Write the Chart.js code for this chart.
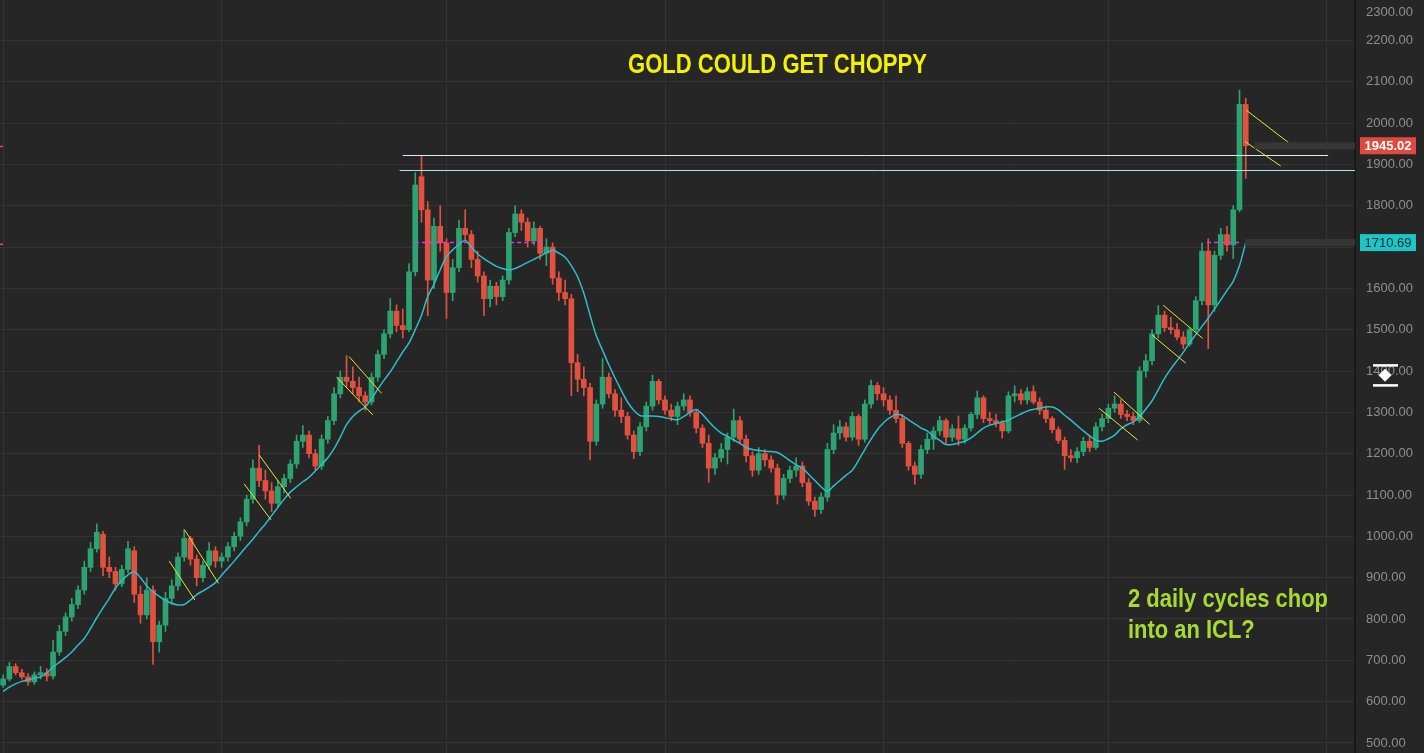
<!DOCTYPE html>
<html>
<head>
<meta charset="utf-8">
<title>Gold could get choppy</title>
<script src="https://cdn.jsdelivr.net/npm/chart.js@4.4.0/dist/chart.umd.min.js"></script>
<style>
  html, body { margin: 0; padding: 0; background: #262626; overflow: hidden; }
  #wrap { width: 1424px; height: 753px; }
</style>
</head>
<body>
<div id="wrap"><canvas id="goldChart"></canvas></div>
<script>
// candle data (oldest first)
const opens = [640,655,685,670,660,648,665,670,662,720,770,805,835,870,925,970,1005,925,915,885,
  920,965,860,810,870,745,785,850,880,950,995,945,900,930,965,940,950,975,1000,1035,
  1090,1165,1135,1110,1080,1120,1140,1175,1230,1245,1200,1170,1235,1280,1345,1385,1375,1360,1340,1325,
  1385,1440,1490,1545,1510,1500,1640,1870,1790,1620,1750,1710,1590,1650,1745,1730,1670,1630,1575,1605,
  1580,1620,1735,1780,1760,1715,1745,1685,1700,1625,1590,1575,1420,1380,1360,1230,1320,1385,1345,1305,
  1290,1245,1205,1265,1315,1375,1330,1305,1290,1315,1330,1300,1262,1225,1165,1190,1210,1240,1280,1235,
  1195,1160,1200,1185,1165,1100,1140,1160,1170,1130,1085,1065,1095,1210,1250,1265,1240,1290,1235,1320,
  1365,1345,1330,1305,1285,1225,1170,1150,1210,1235,1255,1280,1240,1260,1235,1262,1295,1335,1285,1280,
  1275,1255,1340,1345,1330,1350,1325,1305,1285,1258,1232,1195,1190,1205,1230,1215,1265,1285,1310,1320,
  1295,1290,1280,1400,1425,1490,1535,1505,1500,1482,1465,1500,1570,1690,1560,1680,1730,1705,1790,2045];
const highs = [665,695,692,678,668,672,685,680,748,785,815,850,880,940,985,1030,1012,950,925,930,
  988,975,880,900,880,795,865,895,960,1017,1000,955,940,985,975,960,985,1010,1045,1100,
  1185,1220,1160,1130,1135,1150,1185,1245,1268,1255,1210,1245,1290,1360,1400,1437,1410,1385,1350,1395,
  1450,1500,1575,1560,1550,1660,1880,1922,1810,1770,1800,1720,1670,1765,1790,1740,1690,1640,1620,1615,
  1630,1745,1800,1790,1770,1760,1750,1720,1710,1640,1620,1585,1440,1410,1370,1330,1430,1395,1355,1335,
  1300,1255,1275,1325,1390,1380,1340,1320,1325,1345,1340,1305,1270,1245,1200,1225,1250,1308,1290,1245,
  1205,1215,1210,1195,1175,1150,1170,1190,1180,1140,1095,1105,1225,1270,1280,1275,1300,1295,1330,1378,
  1372,1360,1340,1340,1295,1230,1180,1220,1250,1265,1290,1285,1270,1291,1270,1300,1352,1340,1300,1295,
  1280,1350,1364,1355,1360,1364,1335,1315,1290,1265,1240,1210,1215,1240,1245,1275,1295,1320,1340,1330,
  1305,1300,1410,1440,1500,1558,1545,1530,1515,1495,1505,1580,1710,1720,1690,1745,1750,1800,2080,2060];
const lows = [635,650,665,655,640,642,655,650,655,712,760,795,825,860,915,962,905,900,870,878,
  912,840,790,800,690,720,770,835,870,940,930,880,890,920,925,925,940,965,990,1025,
  1080,1120,1090,1060,1070,1105,1130,1165,1215,1190,1160,1162,1225,1270,1335,1360,1345,1325,1305,1318,
  1375,1430,1480,1495,1480,1495,1630,1760,1534,1600,1690,1527,1570,1640,1715,1650,1615,1534,1555,1560,
  1570,1610,1725,1740,1700,1705,1670,1655,1610,1570,1560,1340,1350,1340,1185,1220,1310,1335,1290,1275,
  1235,1188,1195,1255,1305,1320,1295,1280,1270,1305,1290,1250,1215,1131,1150,1180,1175,1230,1225,1180,
  1145,1150,1170,1155,1078,1090,1130,1145,1120,1075,1048,1055,1085,1200,1235,1230,1232,1220,1228,1310,
  1330,1315,1295,1275,1215,1160,1126,1140,1200,1210,1245,1225,1230,1220,1225,1255,1285,1275,1270,1265,
  1238,1250,1325,1320,1320,1320,1295,1275,1250,1225,1162,1180,1178,1195,1205,1210,1255,1275,1300,1285,
  1280,1270,1275,1385,1415,1480,1495,1490,1475,1454,1460,1495,1560,1454,1545,1670,1690,1672,1785,1866];
const closes = [655,685,670,660,648,665,670,662,720,770,805,835,870,925,970,1010,925,915,885,920,
  970,860,810,870,745,785,850,880,950,995,945,900,930,965,940,950,975,1000,1035,1090,
  1165,1135,1110,1080,1120,1140,1175,1230,1245,1200,1170,1235,1280,1345,1385,1375,1360,1340,1325,1385,
  1440,1490,1545,1510,1500,1640,1850,1790,1620,1750,1710,1590,1650,1745,1730,1670,1630,1575,1605,1580,
  1620,1735,1780,1760,1715,1745,1685,1700,1625,1590,1575,1420,1380,1360,1230,1320,1385,1345,1305,1290,
  1245,1205,1265,1315,1375,1330,1305,1290,1315,1330,1300,1262,1225,1165,1190,1210,1240,1280,1235,1195,
  1160,1200,1185,1165,1100,1140,1160,1170,1130,1085,1065,1095,1210,1250,1265,1240,1290,1235,1320,1365,
  1345,1330,1305,1285,1225,1170,1150,1210,1235,1255,1280,1240,1260,1235,1262,1295,1335,1285,1280,1275,
  1255,1340,1345,1330,1350,1325,1305,1285,1258,1232,1195,1190,1205,1230,1215,1265,1285,1310,1320,1295,
  1290,1280,1400,1425,1490,1535,1505,1500,1482,1465,1500,1570,1690,1560,1680,1730,1705,1790,2045,1945.02];
// the cyan moving average as drawn
const maValues = [625,635,643,649,653,657,660,670,684,695,707,720,737,753,777,803,827,850,875,893,
  907,915,900,880,866,855,845,838,834,835,846,859,868,877,888,906,923,940,958,976,
  993,1012,1030,1050,1070,1090,1107,1120,1132,1143,1158,1174,1190,1212,1240,1270,1290,1303,1313,1333,
  1356,1378,1398,1422,1446,1468,1500,1535,1580,1610,1645,1677,1693,1706,1716,1700,1683,1672,1662,1653,
  1648,1644,1648,1655,1663,1670,1678,1686,1692,1685,1675,1655,1628,1588,1535,1485,1450,1415,1383,1353,
  1325,1305,1292,1291,1291,1290,1287,1284,1282,1290,1300,1307,1295,1278,1262,1250,1242,1233,1225,1215,
  1210,1208,1206,1205,1203,1194,1183,1173,1165,1150,1135,1120,1109,1122,1135,1148,1160,1184,1210,1235,
  1258,1275,1287,1295,1292,1282,1272,1262,1255,1242,1232,1222,1222,1226,1230,1238,1250,1262,1269,1273,
  1277,1281,1289,1296,1303,1307,1310,1313,1313,1306,1293,1281,1268,1255,1243,1233,1230,1236,1245,1260,
  1270,1277,1290,1308,1328,1355,1382,1405,1425,1445,1468,1488,1508,1528,1550,1572,1595,1617,1655,1710.69];
const yTickStep = 100;
const yMin = 475.8;
const yMax = 2297.6;
const lastPrice = 1945.02;
const lastMa = 1710.69;

// empty slots on the right so the last candle sits where it does in the picture
const slotCount = 217;
const slots = Array.from({ length: slotCount }, (_, i) => String(i));

// drawn-on markup, in (slot, price) terms
const levelLines = [
  { from: 64.0, to: 212.2, price: 1922.6, color: '#d8eef5' },
  { from: 63.5, to: null, price: 1886, color: '#a9e2f2' }
];
const channelLines = [
  [26.6, 940, 30.7, 846], [29.1, 1015, 34.5, 886],
  [38.6, 1127, 42.9, 1040], [41.0, 1197, 46.05, 1092],
  [53.4, 1385, 59.2, 1294], [55.4, 1435, 60.6, 1346],
  [175.5, 1310, 181.7, 1233], [177.9, 1349, 183.6, 1271],
  [184.0, 1487, 189.4, 1419], [185.8, 1559, 192.1, 1479],
  [199.1, 2031, 205.9, 1952], [198.9, 1955, 204.6, 1896]
];
const pivotDashes = [[65.95, 74.3], [81.2, 86.5], [192.8, 198.1]];
const verticalGrid = [0, 35, 71, 106, 141, 177, 212];

const upColor = '#2ea372';
const downColor = '#e2513f';
const candleColors = closes.map((c, i) => (c >= opens[i] ? upColor : downColor));

const axisFont = { family: '"Liberation Sans", Arial, sans-serif', size: 13 };

// draws text squeezed to the width it has in the picture
function fitText(ctx, text, x, y, width) {
  const w = ctx.measureText(text).width;
  ctx.save();
  ctx.translate(x, y);
  ctx.scale(width / w, 1);
  ctx.fillText(text, 0, 0);
  ctx.restore();
  return width / w;
}

const markup = {
  id: 'markup',
  beforeDraw(chart) {
    const ctx = chart.ctx;
    ctx.save();
    ctx.fillStyle = '#262626';
    ctx.fillRect(0, 0, chart.width, chart.height);
    ctx.restore();
  },
  afterDatasetsDraw(chart) {
    const { ctx, chartArea } = chart;
    const xs = chart.scales.x, ys = chart.scales.y;
    ctx.save();

    // level lines
    ctx.lineWidth = 1;
    levelLines.forEach(l => {
      const y = Math.round(ys.getPixelForValue(l.price)) + 0.5;
      ctx.strokeStyle = l.color;
      ctx.beginPath();
      ctx.moveTo(xs.getPixelForValue(l.from), y);
      ctx.lineTo(l.to === null ? chartArea.right : xs.getPixelForValue(l.to), y);
      ctx.stroke();
    });

    // channel marks
    ctx.strokeStyle = '#e6e82e';
    ctx.lineWidth = 1;
    channelLines.forEach(c => {
      ctx.beginPath();
      ctx.moveTo(xs.getPixelForValue(c[0]), ys.getPixelForValue(c[1]));
      ctx.lineTo(xs.getPixelForValue(c[2]), ys.getPixelForValue(c[3]));
      ctx.stroke();
    });

    // magenta pivots at the average's last value
    ctx.strokeStyle = '#d43fd4';
    ctx.lineWidth = 1.5;
    ctx.setLineDash([4, 3]);
    const yMa = ys.getPixelForValue(lastMa);
    pivotDashes.forEach(d => {
      ctx.beginPath();
      ctx.moveTo(xs.getPixelForValue(d[0]), yMa);
      ctx.lineTo(xs.getPixelForValue(d[1]), yMa);
      ctx.stroke();
    });
    ctx.setLineDash([]);

    // price line stubs on the right
    const yLast = ys.getPixelForValue(lastPrice);
    ctx.fillStyle = '#363636';
    ctx.fillRect(xs.getPixelForValue(200.4), yLast - 3.5, chartArea.right - xs.getPixelForValue(200.4), 7);
    ctx.fillRect(xs.getPixelForValue(198.9), yMa - 3.5, chartArea.right - xs.getPixelForValue(198.9), 7);
    ctx.fillStyle = '#e2513f';
    ctx.fillRect(0, yLast, 3, 1.5);
    ctx.fillStyle = '#d43fd4';
    ctx.fillRect(0, yMa + 1, 3, 1.5);
    ctx.restore();
  },
  afterDraw(chart) {
    const { ctx, chartArea } = chart;
    const ys = chart.scales.y;
    ctx.save();

    // headline
    ctx.fillStyle = '#f3f000';
    ctx.font = 'bold 27px "Liberation Sans Narrow", "Liberation Sans", Arial, sans-serif';
    ctx.textBaseline = 'alphabetic';
    fitText(ctx, 'GOLD COULD GET CHOPPY', 628, 73, 299);

    // note
    ctx.fillStyle = '#a6d932';
    ctx.font = 'bold 25px "Liberation Sans Narrow", "Liberation Sans", Arial, sans-serif';
    const k = fitText(ctx, '2 daily cycles chop', 1128, 607, 200);
    const w2 = ctx.measureText('into an ICL?').width * k;
    fitText(ctx, 'into an ICL?', 1128, 638, w2);

    // top axis label that sits above the scale
    ctx.fillStyle = '#8e8e8e';
    ctx.font = '13px "Liberation Sans", Arial, sans-serif';
    ctx.textBaseline = 'middle';
    ctx.textAlign = 'left';
    ctx.fillText('2300.00', chartArea.right + 11, 12);

    // last price tags
    const tags = [
      { price: lastPrice, bg: '#de4a3e', fg: '#ffffff', bold: true },
      { price: lastMa, bg: '#1cc6c8', fg: '#17292b', bold: false }
    ];
    tags.forEach(t => {
      const y = ys.getPixelForValue(t.price);
      ctx.fillStyle = t.bg;
      ctx.fillRect(chartArea.right + 5, y - 8.5, 56, 17);
      ctx.fillStyle = t.fg;
      ctx.font = (t.bold ? 'bold ' : '') + '13px "Liberation Sans", Arial, sans-serif';
      ctx.textAlign = 'center';
      ctx.fillText(t.price.toFixed(2), chartArea.right + 33, y + 0.5);
    });

    // scale handle icon
    const ix = chartArea.right + 30, iy = ys.getPixelForValue(1390);
    ctx.fillStyle = '#ffffff';
    ctx.fillRect(ix - 12, iy - 11, 25, 2.5);
    ctx.fillRect(ix - 12, iy + 9, 25, 2.5);
    ctx.beginPath();
    ctx.moveTo(ix, iy - 6.5);
    ctx.lineTo(ix + 6.5, iy);
    ctx.lineTo(ix, iy + 6.5);
    ctx.lineTo(ix - 6.5, iy);
    ctx.closePath();
    ctx.fill();
    ctx.restore();
  }
};

const ctx = document.getElementById('goldChart').getContext('2d');
new Chart(ctx, {
  type: 'bar',
  data: {
    labels: slots,
    datasets: [
      {
        type: 'line',
        label: 'Average',
        data: maValues,
        borderColor: '#2bbfcc',
        borderWidth: 1.5,
        pointRadius: 0,
        tension: 0.3,
        order: 0
      },
      {
        label: 'Body',
        data: opens.map((o, i) => [o, closes[i]]),
        backgroundColor: candleColors,
        barThickness: 5,
        grouped: false,
        order: 1
      },
      {
        label: 'Wick',
        data: lows.map((l, i) => [l, highs[i]]),
        backgroundColor: candleColors,
        barThickness: 1,
        grouped: false,
        order: 2
      }
    ]
  },
  options: {
    responsive: true,
    maintainAspectRatio: false,
    animation: false,
    layout: { padding: 0 },
    plugins: {
      legend: { display: false },
      tooltip: { enabled: false }
    },
    scales: {
      x: {
        ticks: { display: false },
        grid: {
          color: c => (verticalGrid.includes(c.index) ? '#333333' : 'rgba(0,0,0,0)'),
          drawTicks: false,
          offset: false
        },
        border: { display: false },
        afterFit: s => { s.height = 0; }
      },
      y: {
        position: 'right',
        min: yMin,
        max: yMax,
        ticks: {
          stepSize: yTickStep,
          includeBounds: false,
          color: '#8e8e8e',
          font: axisFont,
          padding: 11,
          callback: v => Number(v).toFixed(2)
        },
        grid: { color: '#333333', drawTicks: false },
        border: { color: '#171717', width: 2 },
        afterFit: s => { s.width = 69; s.paddingTop = 0; s.paddingBottom = 0; }
      }
    }
  },
  plugins: [markup]
});
</script>
</body>
</html>
